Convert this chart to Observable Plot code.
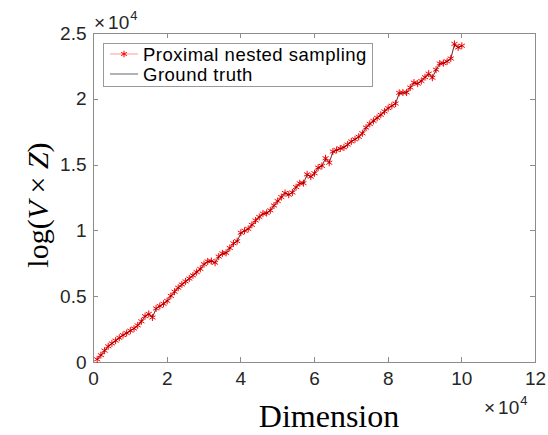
<!DOCTYPE html>
<html><head><meta charset="utf-8">
<script src="https://cdn.jsdelivr.net/npm/d3@7"></script>
<script src="https://cdn.jsdelivr.net/npm/@observablehq/plot@0.6"></script>
<style>body{margin:0;background:#fff} svg{display:block}</style>
</head><body><div id="chart"></div>
<script>
const dimensions = [1000,2000,3000,4000,5000,6000,7000,8000,9000,10000,11000,12000,13000,14000,15000,16000,17000,18000,19000,20000,21000,22000,23000,24000,25000,26000,27000,28000,29000,30000,31000,32000,33000,34000,35000,36000,37000,38000,39000,40000,41000,42000,43000,44000,45000,46000,47000,48000,49000,50000,51000,52000,53000,54000,55000,56000,57000,58000,59000,60000,61000,62000,63000,64000,65000,66000,67000,68000,69000,70000,71000,72000,73000,74000,75000,76000,77000,78000,79000,80000,81000,82000,83000,84000,85000,86000,87000,88000,89000,90000,91000,92000,93000,94000,95000,96000,97000,98000,99000,100000];
const proximal = [240,560,900,1230,1450,1660,1880,2080,2240,2420,2580,2820,3130,3520,3690,3420,4110,4290,4460,4680,5060,5380,5680,5930,6160,6380,6620,6870,7110,7470,7680,7710,7580,8050,8290,8330,8700,9050,9220,9860,10010,10150,10460,10790,11060,11310,11360,11560,11930,12270,12570,12880,12750,12920,13330,13620,13630,14300,14120,14380,14810,14940,15520,15180,16030,16150,16260,16350,16560,16800,16960,17150,17420,17850,18130,18360,18590,18820,19080,19330,19510,19680,20490,20510,20520,20900,21270,21190,21390,21680,21950,21640,22250,22720,22750,22880,23100,24210,23940,24070];
const groundTruth = [230,550,890,1220,1440,1650,1870,2070,2230,2410,2570,2810,3120,3500,3670,3440,4090,4280,4450,4670,5050,5370,5670,5920,6150,6370,6610,6860,7100,7450,7660,7700,7600,8030,8270,8320,8680,9030,9200,9820,9990,10140,10440,10770,11040,11290,11350,11550,11910,12250,12550,12860,12760,12920,13310,13600,13620,14260,14110,14370,14790,14930,15480,15190,15990,16130,16250,16340,16550,16790,16950,17140,17410,17830,18110,18350,18580,18810,19070,19320,19500,19670,20450,20490,20510,20880,21240,21190,21380,21670,21930,21650,22230,22690,22740,22870,23080,24150,23930,24050];
const xTicks = [0,20000,40000,60000,80000,100000,120000];
const yTicks = [0,5000,10000,15000,20000,25000];
const seriesNames = ["Proximal nested sampling","Ground truth"];

const est = dimensions.map((d,i)=>({dim:d, value:proximal[i]}));
const gt = dimensions.map((d,i)=>({dim:d, value:groundTruth[i]}));

const W = 548, H = 435, mL = 93, mR = 13, mT = 33, mB = 73;
const axisCol = "#8c8c8c", textCol = "#262626";
const sans = "'Liberation Sans', Arial, sans-serif";
const serif = "'Liberation Serif', 'DejaVu Serif', serif";

const chart = Plot.plot({
  width: W, height: H,
  marginLeft: mL, marginRight: mR, marginTop: mT, marginBottom: mB,
  style: {fontFamily: sans, fontSize: "19px", color: textCol, background: "#fff"},
  x: {domain: [0, 120000], label: null},
  y: {domain: [0, 25000], label: null},
  marks: [
    Plot.frame({stroke: axisCol, strokeWidth: 1}),
    Plot.axisX({ticks: xTicks, tickSize: 0, tickPadding: 9, tickFormat: d => String(d/1e4), fontSize: 19, fill: textCol, label: null}),
    Plot.axisY({ticks: yTicks, tickSize: 0, tickPadding: 7, tickFormat: d => String(d/1e4), fontSize: 19, fill: textCol, label: null}),
    Plot.line(est, {x: "dim", y: "value", stroke: "#ff0000", strokeOpacity: 0.5, strokeWidth: 1}),
    Plot.dot(est, {x: "dim", y: "value", symbol: "asterisk", r: 3.3, stroke: "#ff0000", strokeWidth: 1}),
    Plot.line(gt, {x: "dim", y: "value", stroke: "#000", strokeWidth: 0.7, strokeOpacity: 0.8})
  ]
});
document.getElementById("chart").append(chart);

const svg = d3.select(chart);
const sx = chart.scale("x"), sy = chart.scale("y");
const x0 = sx.apply(0), x1 = sx.apply(120000), y0 = sy.apply(0), y1 = sy.apply(25000);
// inward tick marks on all four sides (MATLAB box style)
const tk = svg.append("g").attr("stroke", axisCol).attr("stroke-width", 1);
xTicks.slice(1, -1).forEach(v => {
  const px = Math.round(sx.apply(v)) + 0.5;
  tk.append("line").attr("x1", px).attr("x2", px).attr("y1", y0).attr("y2", y0 - 5);
  tk.append("line").attr("x1", px).attr("x2", px).attr("y1", y1).attr("y2", y1 + 5);
});
yTicks.slice(1, -1).forEach(v => {
  const py = Math.round(sy.apply(v)) + 0.5;
  tk.append("line").attr("x1", x0).attr("x2", x0 + 5).attr("y1", py).attr("y2", py);
  tk.append("line").attr("x1", x1).attr("x2", x1 - 5).attr("y1", py).attr("y2", py);
});

// exponent labels
function expLabel(x, y) {
  const t = svg.append("text").attr("x", x).attr("y", y).attr("text-anchor", "start")
    .attr("font-family", sans).attr("font-size", 19).attr("fill", textCol);
  t.append("tspan").text("×");
  t.append("tspan").attr("dx", 3).text("10");
  t.append("tspan").attr("font-size", 13).attr("dx", 1).attr("dy", -9).text("4");
}
expLabel(94, 29);
expLabel(484, 414);

// axis titles
svg.append("text").attr("x", 329).attr("y", 427).attr("text-anchor", "middle")
  .attr("font-family", serif).attr("font-size", 32).attr("fill", "#000")
  .text("Dimension");
const yl = svg.append("text").attr("transform", "translate(48,205) rotate(-90)").attr("text-anchor", "middle")
  .attr("font-family", serif).attr("font-size", 30).attr("fill", "#000");
yl.append("tspan").text("log(");
yl.append("tspan").attr("font-style", "italic").text("V");
yl.append("tspan").text(" × ");
yl.append("tspan").attr("font-style", "italic").text("Z");
yl.append("tspan").text(")");

// legend
const lg = svg.append("g");
lg.append("rect").attr("x", 103.5).attr("y", 43.5).attr("width", 269).attr("height", 43)
  .attr("fill", "#fff").attr("stroke", "#9a9a9a").attr("stroke-width", 1);
lg.append("line").attr("x1", 110).attr("x2", 138).attr("y1", 54).attr("y2", 54)
  .attr("stroke", "#ff0000").attr("stroke-opacity", 0.4).attr("stroke-width", 1);
lg.append("path").attr("d", d3.symbol(d3.symbolAsterisk, 30)()).attr("transform", "translate(124,54)")
  .attr("fill", "none").attr("stroke", "#ff0000").attr("stroke-width", 1);
lg.append("line").attr("x1", 110).attr("x2", 138).attr("y1", 74).attr("y2", 74)
  .attr("stroke", "#000").attr("stroke-opacity", 0.6).attr("stroke-width", 1);
seriesNames.forEach((name, i) => {
  lg.append("text").attr("x", 143).attr("y", 60.5 + i * 20).attr("text-anchor", "start")
    .attr("font-family", sans).attr("font-size", 18.5).attr("letter-spacing", 0.5).attr("fill", "#000")
    .text(name);
});
</script>
</body></html>
